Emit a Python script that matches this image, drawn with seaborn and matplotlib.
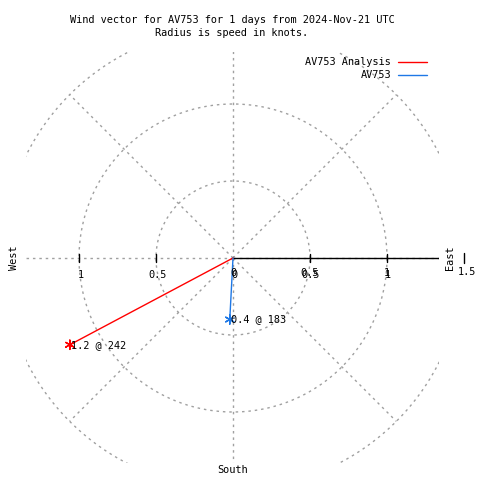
import numpy as np
import pandas as pd
import matplotlib
matplotlib.use("Agg")
import matplotlib.pyplot as plt
from matplotlib.lines import Line2D
import seaborn as sns

# wind vectors: speed (knots) and direction (degrees)
series_names = ["AV753 Analysis", "AV753"]
speeds = [1.2, 0.4]
directions = [242, 183]
series_colors = ["#ff0000", "#1e78e6"]

ring_radii = [0.5, 1.0, 1.5]
spoke_angles = [0, 45, 90, 135, 180, 225, 270, 315]
tick_values = [0.5, 1.0]

sns.set_style("white")
plt.rcParams["font.family"] = ["DejaVu Sans Mono", "DejaVu Sans"]
plt.rcParams["font.size"] = 7.4
plt.rcParams["text.color"] = "black"

fig = plt.figure(figsize=(4.8, 4.8), dpi=100)
S = 154.0  # pixels per knot
ax = fig.add_axes([26 / 480, 17 / 480, 413 / 480, 411 / 480])
ax.set_xlim(-207 / S, 206 / S)
ax.set_ylim(-205 / S, 206 / S)
ax.axis("off")

grid_kw = dict(color="#a0a0a0", lw=1.0, ls=(0, (1.8, 2.8)))
th = np.linspace(0, 2 * np.pi, 400)
for r in ring_radii:
    ax.plot(r * np.cos(th), r * np.sin(th), **grid_kw)
for a in spoke_angles:
    rad = np.deg2rad(a)
    ax.plot([0, 1.5 * np.sin(rad)], [0, 1.5 * np.cos(rad)], **grid_kw)

# east axis with ticks
ax.plot([0, 206 / S], [0, 0], color="black", lw=1)
for t in tick_values:
    ax.plot([t, t], [-4 / S, 4 / S], color="black", lw=1)
    ax.plot([-t, -t], [-4 / S, 4 / S], color="black", lw=1)
    lab = "1" if t == 1.0 else "0.5"
    ax.text(-t + 2 / S, -17 / S, lab, ha="center", va="center")
    ax.text(t, -15 / S, lab, ha="center", va="center")
    ax.text(t + 1 / S, -17 / S, lab, ha="center", va="center")
ax.text(0, -15 / S, "0", ha="center", va="center")
ax.text(1 / S, -17 / S, "0", ha="center", va="center")
ax.plot([231 / S, 231 / S], [-5 / S, 5 / S], color="black", lw=1, clip_on=False)
ax.text(234 / S, -14 / S, "1.5", ha="center", va="center", clip_on=False)

rows = []
for name, sp, d in zip(series_names, speeds, directions):
    rad = np.deg2rad(d)
    rows.append({"series": name, "x": 0.0, "y": 0.0})
    rows.append({"series": name, "x": sp * np.sin(rad), "y": sp * np.cos(rad)})
df = pd.DataFrame(rows)
pal = dict(zip(series_names, series_colors))
sns.lineplot(data=df, x="x", y="y", hue="series", units="series", estimator=None,
             sort=False, palette=pal, lw=1, legend=False, ax=ax)
ends = df.iloc[1::2]
sns.scatterplot(data=ends, x="x", y="y", hue="series", palette=pal, marker=(6, 2, 0),
                s=45, linewidth=1, legend=False, ax=ax)
for name, sp, d in zip(series_names, speeds, directions):
    rad = np.deg2rad(d)
    ax.text(sp * np.sin(rad) + 1 / S, sp * np.cos(rad), f"{sp:g} @ {d}",
            ha="left", va="center")

# direction labels
fig.text(450 / 480, 1 - 258 / 480, "East", rotation=90, ha="center", va="center")
fig.text(14 / 480, 1 - 258 / 480, "West", rotation=90, ha="center", va="center")
fig.text(233 / 480, 1 - 470 / 480, "South", ha="center", va="center")

fig.text(232 / 480, 1 - 20 / 480, "Wind vector for AV753 for 1 days from 2024-Nov-21 UTC",
         ha="center", va="center")
fig.text(232 / 480, 1 - 33 / 480, "Radius is speed in knots.", ha="center", va="center")

# legend
for i, (name, c) in enumerate(zip(series_names, series_colors)):
    yy = 1 - (62 + 13 * i) / 480
    fig.text(391 / 480, yy, name, ha="right", va="center")
    fig.add_artist(Line2D([398 / 480, 427 / 480], [yy, yy], color=c, lw=1,
                          transform=fig.transFigure))

fig.savefig("out.png", dpi=100)
